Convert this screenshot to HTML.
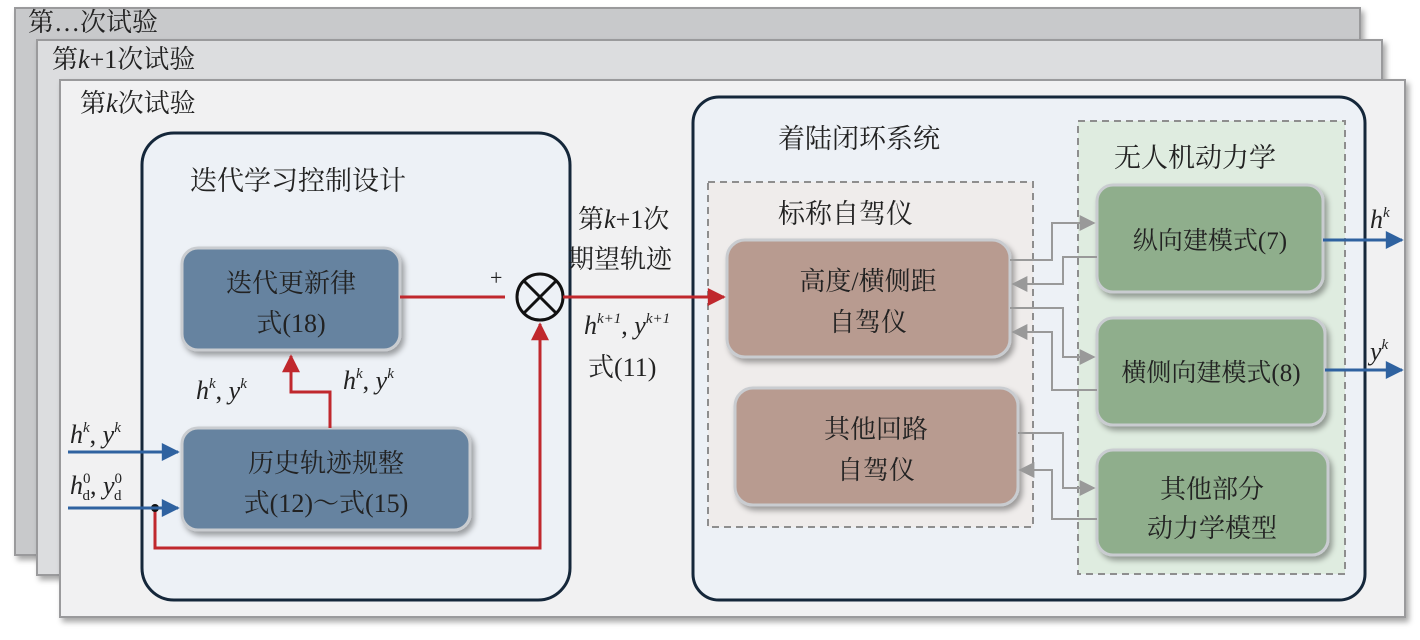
<!DOCTYPE html>
<html><head><meta charset="utf-8"><style>
body{margin:0;background:#fff;}
text{font-family:"Liberation Serif","Noto Serif CJK SC","Noto Sans CJK SC",serif;fill:#222;}
</style></head><body>
<svg width="1420" height="635" viewBox="0 0 1420 635" xmlns="http://www.w3.org/2000/svg">
<defs>
<filter id="sh" x="-10%" y="-10%" width="125%" height="130%"><feDropShadow dx="3" dy="4" stdDeviation="3" flood-color="#000" flood-opacity="0.35"/></filter>
<marker id="ar" viewBox="0 0 10 10" refX="9" refY="5" markerWidth="8" markerHeight="6" orient="auto" markerUnits="strokeWidth"><path d="M0,0L10,5L0,10z" fill="#c0282d"/></marker>
<marker id="ab" viewBox="0 0 10 10" refX="9" refY="5" markerWidth="8" markerHeight="6" orient="auto" markerUnits="strokeWidth"><path d="M0,0L10,5L0,10z" fill="#2f62a0"/></marker>
<marker id="ag" viewBox="0 0 10 10" refX="9" refY="5" markerWidth="9" markerHeight="8" orient="auto" markerUnits="strokeWidth"><path d="M0,0L10,5L0,10z" fill="#999"/></marker>
</defs>
<rect x="15" y="8" width="1345" height="547" fill="#c8c9cb" stroke="#9a9a9c" stroke-width="2" filter="url(#sh)"/>
<text x="28" y="31" font-size="26">第…次试验</text>
<rect x="37" y="40" width="1345" height="535" fill="#dcdddf" stroke="#9a9a9c" stroke-width="2" filter="url(#sh)"/>
<text x="52" y="68" font-size="26">第<tspan font-style="italic">k</tspan>+1次试验</text>
<rect x="60" y="80" width="1345" height="537" fill="#f1f1f2" stroke="#9a9a9c" stroke-width="2" filter="url(#sh)"/>
<text x="80" y="112" font-size="26">第<tspan font-style="italic">k</tspan>次试验</text>

<rect x="142" y="133" width="428" height="467" rx="32" fill="#edf1f6" stroke="#15273a" stroke-width="3"/>
<text x="190" y="190" font-size="27">迭代学习控制设计</text>
<rect x="182" y="248" width="218" height="102" rx="16" fill="#6683a0" stroke="#c9ccd0" stroke-width="3" filter="url(#sh)"/>
<text x="291" y="292" font-size="26" text-anchor="middle">迭代更新律</text>
<text x="291" y="332" font-size="26" text-anchor="middle">式(18)</text>
<rect x="182" y="428" width="288" height="102" rx="16" fill="#6683a0" stroke="#c9ccd0" stroke-width="3" filter="url(#sh)"/>
<text x="326" y="472" font-size="26" text-anchor="middle">历史轨迹规整</text>
<text x="326" y="512" font-size="26" text-anchor="middle">式(12)～式(15)</text>

<line x1="400" y1="297" x2="505" y2="297" stroke="#c0282d" stroke-width="3"/>
<text x="490" y="285" font-size="22">+</text>
<circle cx="540" cy="297" r="23" fill="none" stroke="#111" stroke-width="3"/>
<line x1="524" y1="281" x2="556" y2="313" stroke="#111" stroke-width="3"/>
<line x1="556" y1="281" x2="524" y2="313" stroke="#111" stroke-width="3"/>
<polyline points="330,428 330,392 291,392 291,356" fill="none" stroke="#c0282d" stroke-width="3" marker-end="url(#ar)"/>
<polyline points="155,508 155,548 540,548 540,324" fill="none" stroke="#c0282d" stroke-width="3" marker-end="url(#ar)"/>
<circle cx="155" cy="508" r="4" fill="#111"/>
<line x1="68" y1="452" x2="178" y2="452" stroke="#2f62a0" stroke-width="3" marker-end="url(#ab)"/>
<line x1="68" y1="508" x2="178" y2="508" stroke="#2f62a0" stroke-width="3" marker-end="url(#ab)"/>

<g font-size="26" font-style="italic">
<text x="196" y="399">h<tspan font-size="15" dy="-11">k</tspan><tspan dy="11" font-style="normal">, </tspan>y<tspan font-size="15" dy="-11">k</tspan></text>
<text x="343" y="389">h<tspan font-size="15" dy="-11">k</tspan><tspan dy="11" font-style="normal">, </tspan>y<tspan font-size="15" dy="-11">k</tspan></text>
<text x="70" y="443">h<tspan font-size="15" dy="-11">k</tspan><tspan dy="11" font-style="normal">, </tspan>y<tspan font-size="15" dy="-11">k</tspan></text>
<text x="70" y="494">h<tspan font-size="15" dy="-11" font-style="normal">0</tspan><tspan font-size="15" dx="-8" dy="17" font-style="normal">d</tspan><tspan dy="-6" font-style="normal">, </tspan>y<tspan font-size="15" dy="-11" font-style="normal">0</tspan><tspan font-size="15" dx="-8" dy="17" font-style="normal">d</tspan></text>
<text x="584" y="334">h<tspan font-size="15" dy="-11">k+1</tspan><tspan dy="11" font-style="normal">, </tspan>y<tspan font-size="15" dy="-11">k+1</tspan></text>
</g>
<text x="578" y="228" font-size="26">第<tspan font-style="italic">k</tspan>+1次</text>
<text x="568" y="268" font-size="26">期望轨迹</text>
<text x="588" y="376" font-size="26">式(11)</text>

<rect x="693" y="97" width="672" height="503" rx="26" fill="#edf1f6" stroke="#15273a" stroke-width="3"/>
<text x="778" y="148" font-size="27">着陆闭环系统</text>
<rect x="708" y="182" width="325" height="345" fill="#efeceb" stroke="#8e8e8e" stroke-width="2" stroke-dasharray="7,5"/>
<rect x="1078" y="121" width="267" height="453" fill="#dfece0" stroke="#8e8e8e" stroke-width="2" stroke-dasharray="7,5"/>
<text x="778" y="223" font-size="27">标称自驾仪</text>
<text x="1114" y="167" font-size="27">无人机动力学</text>

<rect x="727" y="240" width="283" height="117" rx="18" fill="#b89b90" stroke="#c9ccd0" stroke-width="3" filter="url(#sh)"/>
<text x="868" y="290" font-size="26" text-anchor="middle">高度/横侧距</text>
<text x="868" y="331" font-size="26" text-anchor="middle">自驾仪</text>
<rect x="735" y="388" width="283" height="117" rx="18" fill="#b89b90" stroke="#c9ccd0" stroke-width="3" filter="url(#sh)"/>
<text x="876" y="438" font-size="26" text-anchor="middle">其他回路</text>
<text x="876" y="479" font-size="26" text-anchor="middle">自驾仪</text>

<rect x="1097" y="185" width="226" height="107" rx="16" fill="#8fae8c" stroke="#c9ccd0" stroke-width="3" filter="url(#sh)"/>
<text x="1210" y="249" font-size="25" text-anchor="middle">纵向建模式(7)</text>
<rect x="1097" y="318" width="228" height="107" rx="16" fill="#8fae8c" stroke="#c9ccd0" stroke-width="3" filter="url(#sh)"/>
<text x="1211" y="381" font-size="25" text-anchor="middle">横侧向建模式(8)</text>
<rect x="1097" y="450" width="231" height="105" rx="16" fill="#8fae8c" stroke="#c9ccd0" stroke-width="3" filter="url(#sh)"/>
<text x="1212" y="498" font-size="26" text-anchor="middle">其他部分</text>
<text x="1212" y="537" font-size="26" text-anchor="middle">动力学模型</text>

<g fill="none" stroke="#999" stroke-width="2">
<polyline points="1010,260 1052,260 1052,223 1094,223" marker-end="url(#ag)"/>
<polyline points="1097,257 1063,257 1063,284 1013,284" marker-end="url(#ag)"/>
<polyline points="1010,308 1063,308 1063,357 1094,357" marker-end="url(#ag)"/>
<polyline points="1097,390 1052,390 1052,332 1013,332" marker-end="url(#ag)"/>
<polyline points="1018,433 1063,433 1063,488 1094,488" marker-end="url(#ag)"/>
<polyline points="1097,519 1052,519 1052,470 1020,470" marker-end="url(#ag)"/>
</g>

<line x1="1323" y1="240" x2="1402" y2="240" stroke="#2f62a0" stroke-width="3" marker-end="url(#ab)"/>
<line x1="1325" y1="370" x2="1402" y2="370" stroke="#2f62a0" stroke-width="3" marker-end="url(#ab)"/>
<g font-size="26" font-style="italic">
<text x="1370" y="228">h<tspan font-size="15" dy="-11">k</tspan></text>
<text x="1370" y="360">y<tspan font-size="15" dy="-11">k</tspan></text>
</g>
<line x1="563" y1="297" x2="724" y2="297" stroke="#c0282d" stroke-width="3" marker-end="url(#ar)"/>
</svg>
</body></html>
